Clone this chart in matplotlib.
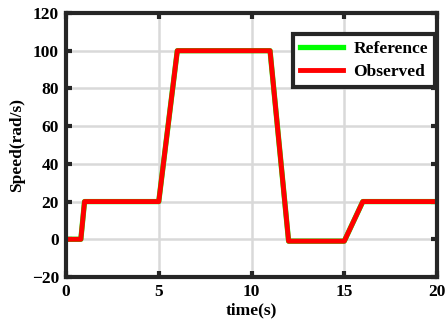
import numpy as np
import matplotlib.pyplot as plt

plt.rcParams['font.family'] = ['Liberation Serif', 'DejaVu Serif']
plt.rcParams['font.weight'] = 'bold'

# speed profile
t_ref = [0, 0.8, 1.0, 5.0, 6.0, 11.0, 12.0, 15.0, 16.0, 20.0]
w_ref = [0, 0, 20, 20, 100, 100, -1, -1, 20, 20]
t_obs = [0, 0.8, 1.0, 5.0, 6.0, 11.0, 12.0, 15.0, 16.0, 20.0]
w_obs = [0, 0, 20, 20, 100, 100, -1, -1, 20, 20]

xticks = [0, 5, 10, 15, 20]
yticks = [-20, 0, 20, 40, 60, 80, 100, 120]

fig = plt.figure(figsize=(4.48, 3.33), dpi=100)
ax = fig.add_axes([66/448, 1-277/333, (437-66)/448, (277-13)/333])

ax.plot(t_ref, w_ref, color='#00ff00', lw=3.8, label='Reference')
ax.plot(t_obs, w_obs, color='#ff0000', lw=3.5, label='Observed')

ax.set_xlim(0, 20)
ax.set_ylim(-20, 120)
ax.set_xticks(xticks)
ax.set_yticks(yticks)
ax.grid(True, color='#d9d9d9', lw=1.8)
ax.tick_params(direction='in', length=4, width=3, labelsize=12.5, color='#262626',
               top=True, right=True, pad=5)
for s in ax.spines.values():
    s.set_linewidth(3)
    s.set_color('#262626')

ax.set_xlabel('time(s)', fontsize=12.5, fontweight='bold', labelpad=2)
ax.set_ylabel('Speed(rad/s)', fontsize=12.5, fontweight='bold', labelpad=5)

leg = ax.legend(loc='upper right', bbox_to_anchor=(0.995, 0.92), fontsize=12.5,
                fancybox=False, framealpha=1, handlelength=2.5,
                borderpad=0.4, labelspacing=0.4, borderaxespad=0.0,
                handletextpad=0.6)
leg.get_frame().set_edgecolor('#262626')
leg.get_frame().set_linewidth(3)

fig.savefig('out.png', dpi=100)
